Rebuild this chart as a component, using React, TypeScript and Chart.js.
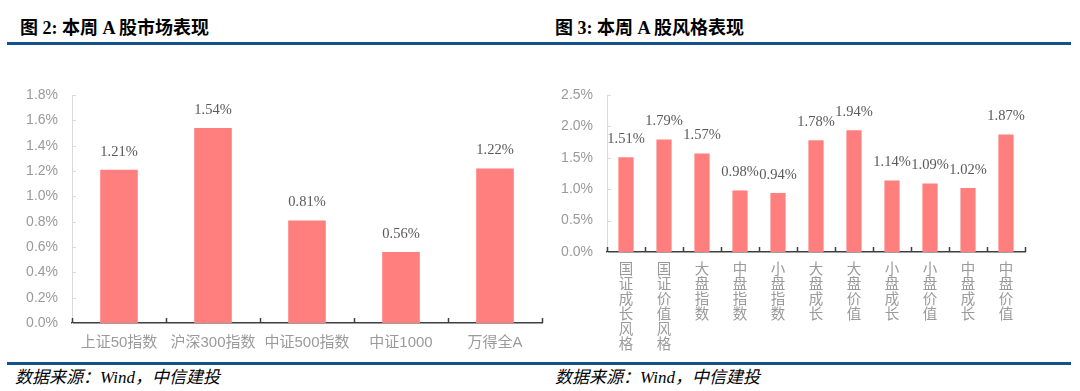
import React, { useEffect, useRef } from 'react';
import { Chart, registerables } from 'chart.js';

Chart.register(...registerables);

// ---- Data ----
const marketCategories = ['上证50指数', '沪深300指数', '中证500指数', '中证1000', '万得全A'];
const marketValues = [1.21, 1.54, 0.81, 0.56, 1.22];
const marketAxisMax = 1.8;
const marketAxisStep = 0.2;

const styleCategories = [
  '国证成长风格', '国证价值风格', '大盘指数', '中盘指数', '小盘指数',
  '大盘成长', '大盘价值', '小盘成长', '小盘价值', '中盘成长', '中盘价值',
];
const styleValues = [1.51, 1.79, 1.57, 0.98, 0.94, 1.78, 1.94, 1.14, 1.09, 1.02, 1.87];
const styleAxisMax = 2.5;
const styleAxisStep = 0.5;

const BAR_COLOR = '#FF7F7F';
const TICK_COLOR = '#9a9a9a';
const SANS = '"Liberation Sans", "Noto Sans CJK SC", sans-serif';
const SERIF = '"Liberation Serif", "Noto Sans CJK SC", serif';

type Opts = {
  labels: any[];
  values: number[];
  max: number;
  step: number;
  yWidth: number;
  xHeight: number;
  padRight: number;
  xFontSize: number;
  xLineHeight: number;
  xPad: number;
};

const decorPlugin = {
  id: 'decor',
  afterDatasetsDraw(chart: any) {
    const ctx = chart.ctx;
    const meta = chart.getDatasetMeta(0);
    const data = chart.data.datasets[0].data as number[];
    ctx.save();
    ctx.font = `14.5px ${SERIF}`;
    ctx.fillStyle = '#595959';
    ctx.textAlign = 'center';
    ctx.textBaseline = 'middle';
    meta.data.forEach((bar: any, i: number) => {
      ctx.fillText(data[i].toFixed(2) + '%', bar.x, bar.y - 18);
    });
    ctx.restore();
  },
  afterDraw(chart: any) {
    const ctx = chart.ctx;
    const { left, right, bottom } = chart.chartArea;
    const n = chart.data.labels.length;
    const w = (right - left) / n;
    ctx.save();
    ctx.strokeStyle = '#3f3f3f';
    ctx.lineWidth = 1.5;
    ctx.beginPath();
    for (let i = 0; i <= n; i++) {
      const x = Math.round(left + i * w) + 0.5;
      ctx.moveTo(x, bottom);
      ctx.lineTo(x, bottom - 5);
    }
    ctx.stroke();
    // y inside ticks
    const ys = chart.scales.y;
    ctx.strokeStyle = '#d9d9d9';
    ctx.lineWidth = 1;
    ctx.beginPath();
    ys.ticks.forEach((t: any) => {
      if (t.value === 0) return;
      const y = Math.round(ys.getPixelForValue(t.value)) + 0.5;
      ctx.moveTo(left, y);
      ctx.lineTo(left + 4, y);
    });
    ctx.stroke();
    ctx.restore();
  },
};

function BarChart(props: Opts & { width: number; height: number; style: React.CSSProperties }) {
  const ref = useRef<HTMLCanvasElement>(null);
  useEffect(() => {
    if (!ref.current) return;
    const p = props;
    const chart = new Chart(ref.current, {
      type: 'bar',
      data: {
        labels: p.labels,
        datasets: [
          {
            data: p.values,
            backgroundColor: BAR_COLOR,
            borderWidth: 0,
            barPercentage: 0.4,
            categoryPercentage: 1,
          },
        ],
      },
      options: {
        animation: false,
        responsive: false,
        devicePixelRatio: 1,
        layout: { padding: { top: 35, right: p.padRight, left: 0, bottom: 0 } },
        plugins: { legend: { display: false }, tooltip: { enabled: false } },
        scales: {
          x: {
            grid: { display: false, drawTicks: false },
            border: { display: true, color: '#3f3f3f', width: 1.5 },
            ticks: {
              color: TICK_COLOR,
              font: { family: SANS, size: p.xFontSize, lineHeight: p.xLineHeight },
              padding: p.xPad,
              maxRotation: 0,
              autoSkip: false,
            },
            afterFit: (s: any) => {
              s.height = p.xHeight;
            },
          },
          y: {
            min: 0,
            max: p.max,
            grid: { display: false, drawTicks: false },
            border: { display: true, color: '#d9d9d9', width: 1 },
            ticks: {
              stepSize: p.step,
              color: TICK_COLOR,
              font: { family: SANS, size: 14 },
              padding: 14,
              callback: (v: any) => Number(v).toFixed(1) + '%',
            },
            afterFit: (s: any) => {
              s.width = p.yWidth;
            },
          },
        },
      },
      plugins: [decorPlugin],
    });
    return () => chart.destroy();
  }, []);
  return (
    <canvas
      ref={ref}
      width={props.width}
      height={props.height}
      style={{ position: 'absolute', width: props.width, height: props.height, ...props.style }}
    />
  );
}

const titleStyle: React.CSSProperties = {
  position: 'absolute',
  top: 18,
  fontFamily: SERIF,
  fontWeight: 'bold',
  fontSize: 18,
  lineHeight: '20px',
  color: '#000',
  whiteSpace: 'nowrap',
};
const sourceStyle: React.CSSProperties = {
  position: 'absolute',
  top: 368,
  fontFamily: SERIF,
  fontStyle: 'italic',
  fontSize: 17,
  lineHeight: '20px',
  color: '#000',
  whiteSpace: 'nowrap',
};
const lineStyle: React.CSSProperties = {
  position: 'absolute',
  left: 7,
  width: 1064,
  height: 3,
  background: '#15518a',
};

export default function App() {
  return (
    <div style={{ position: 'absolute', left: 0, top: 0, width: 1080, height: 391, background: '#fff', overflow: 'hidden' }}>
      <div style={{ ...titleStyle, left: 20 }}>图 2: 本周 A 股市场表现</div>
      <div style={{ ...titleStyle, left: 555 }}>图 3: 本周 A 股风格表现</div>
      <div style={{ ...lineStyle, top: 42 }} />
      <BarChart
        width={545}
        height={300}
        style={{ left: 0, top: 60 }}
        labels={marketCategories}
        values={marketValues}
        max={marketAxisMax}
        step={marketAxisStep}
        yWidth={72}
        xHeight={37}
        padRight={3}
        xFontSize={15}
        xLineHeight={1.2}
        xPad={11}
      />
      <BarChart
        width={535}
        height={300}
        style={{ left: 545, top: 60 }}
        labels={styleCategories.map((s) => s.split(''))}
        values={styleValues}
        max={styleAxisMax}
        step={styleAxisStep}
        yWidth={62}
        xHeight={108}
        padRight={55}
        xFontSize={14.5}
        xLineHeight={1.034}
        xPad={11}
      />
      <div style={{ ...lineStyle, top: 362 }} />
      <div style={{ ...sourceStyle, left: 15 }}>数据来源：Wind，中信建投</div>
      <div style={{ ...sourceStyle, left: 555 }}>数据来源：Wind，中信建投</div>
    </div>
  );
}
